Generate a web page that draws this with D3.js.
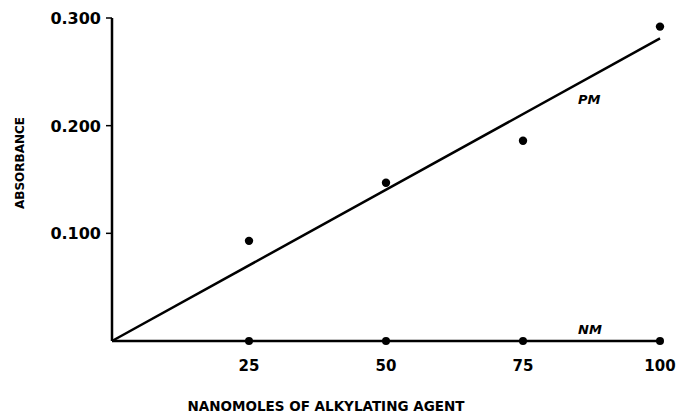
<!DOCTYPE html>
<html>
<head>
<meta charset="utf-8">
<script src="https://cdn.jsdelivr.net/npm/d3@7"></script>
<style>
  body { margin: 0; background: #fff; }
  text { font-family: "DejaVu Sans", sans-serif; fill: #000; }
</style>
</head>
<body>
<div id="chart"></div>
<script>
// Data
const nanomoles = [25, 50, 75, 100];
const pmAbsorbance = [0.093, 0.147, 0.186, 0.292];
const nmAbsorbance = [0, 0, 0, 0];
// fitted PM line, endpoints
const pmLineX = [0, 100];
const pmLineY = [0, 0.281];
const yTicks = [0.1, 0.2, 0.3];
const yTickLabels = ["0.100", "0.200", "0.300"];

const W = 678, H = 414;
const margin = { top: 18, right: 18, bottom: 73, left: 112 };

const svg = d3.select("#chart").append("svg")
  .attr("width", W)
  .attr("height", H);

const x = d3.scaleLinear().domain([0, 100]).range([margin.left, W - margin.right]);
const y = d3.scaleLinear().domain([0, 0.3]).range([H - margin.bottom, margin.top]);

// axes lines
svg.append("line")
  .attr("x1", x(0)).attr("x2", x(0))
  .attr("y1", y(0.3)).attr("y2", y(0))
  .attr("stroke", "#000").attr("stroke-width", 2.5);

svg.append("line")
  .attr("x1", x(0)).attr("x2", x(100))
  .attr("y1", y(0)).attr("y2", y(0))
  .attr("stroke", "#000").attr("stroke-width", 2.5);

// y ticks
svg.selectAll(".ytick")
  .data(yTicks)
  .enter().append("line")
  .attr("class", "ytick")
  .attr("x1", x(0) - 6).attr("x2", x(0))
  .attr("y1", d => y(d)).attr("y2", d => y(d))
  .attr("stroke", "#000").attr("stroke-width", 1.5);

svg.selectAll(".ylab")
  .data(yTicks)
  .enter().append("text")
  .attr("class", "ylab")
  .attr("x", x(0) - 11)
  .attr("y", d => y(d) + 6)
  .attr("text-anchor", "end")
  .attr("font-size", 16)
  .attr("font-weight", "bold")
  .text((d, i) => yTickLabels[i]);

// x tick labels
svg.selectAll(".xlab")
  .data(nanomoles)
  .enter().append("text")
  .attr("class", "xlab")
  .attr("x", d => x(d))
  .attr("y", y(0) + 30)
  .attr("text-anchor", "middle")
  .attr("font-size", 15)
  .attr("font-weight", "bold")
  .text(d => d);

// axis titles
svg.append("text")
  .attr("x", 326)
  .attr("y", 411)
  .attr("text-anchor", "middle")
  .attr("font-size", 13.5)
  .attr("font-weight", "bold")
  .text("NANOMOLES OF ALKYLATING AGENT");

svg.append("text")
  .attr("transform", "translate(24,163) rotate(-90)")
  .attr("text-anchor", "middle")
  .attr("font-size", 12)
  .attr("font-weight", "bold")
  .text("ABSORBANCE");

// PM fitted line
svg.append("line")
  .attr("x1", x(pmLineX[0])).attr("y1", y(pmLineY[0]))
  .attr("x2", x(pmLineX[1])).attr("y2", y(pmLineY[1]))
  .attr("stroke", "#000").attr("stroke-width", 2.5);

// PM points
svg.selectAll(".pm")
  .data(nanomoles)
  .enter().append("circle")
  .attr("class", "pm")
  .attr("cx", d => x(d))
  .attr("cy", (d, i) => y(pmAbsorbance[i]))
  .attr("r", 4.2)
  .attr("fill", "#000");

// NM points
svg.selectAll(".nm")
  .data(nanomoles)
  .enter().append("circle")
  .attr("class", "nm")
  .attr("cx", d => x(d))
  .attr("cy", (d, i) => y(nmAbsorbance[i]))
  .attr("r", 4)
  .attr("fill", "#000");

// series labels
svg.append("text")
  .attr("x", 578).attr("y", 104)
  .attr("font-size", 13)
  .attr("font-style", "italic")
  .attr("font-weight", "bold")
  .text("PM");

svg.append("text")
  .attr("x", 578).attr("y", 334)
  .attr("font-size", 13)
  .attr("font-style", "italic")
  .attr("font-weight", "bold")
  .text("NM");
</script>
</body>
</html>
